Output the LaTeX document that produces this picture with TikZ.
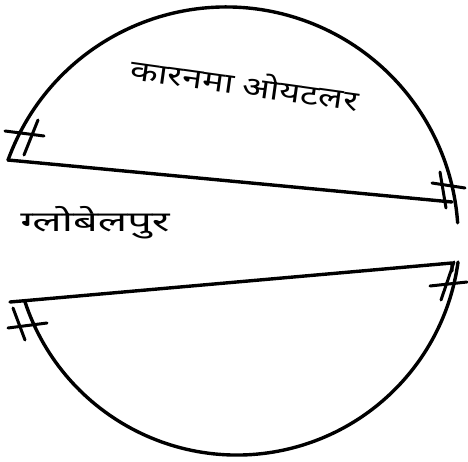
\documentclass[tikz,border=0pt]{standalone}
\usepackage{fontspec}
\newfontfamily\deva[Script=Devanagari]{Noto Sans}
\begin{document}
\begin{tikzpicture}[x=1pt,y=1pt,
  pen/.style={line width=3.4pt,line cap=round,line join=round,black},
  tick/.style={line width=3pt,line cap=round,black},
  label/.style={font=\deva\fontsize{28}{32}\selectfont,inner sep=0pt}]
\useasboundingbox (0,0) rectangle (468,461);
% upper half
\coordinate (ua) at (8,301);
\coordinate (ub) at (452,259);
\draw[pen] (ua) -- (ub);
\draw[pen] (226.2,222) ++(160.1:232) arc[start angle=160.1,end angle=4,radius=232];
% upper ticks
\draw[tick] (38,341) -- (24,306);
\draw[tick] (5,330) -- (44,325);
\draw[tick] (440,289) -- (446,253);
\draw[tick] (432,278) -- (465,273);
% lower half
\coordinate (la) at (10,159);
\coordinate (lb) at (452,198);
\draw[pen] (la) -- (lb) -- ++(0,-8);
\draw[pen] (236.9,229.2) ++(198.3:223.2) arc[start angle=198.3,end angle=352.2,radius=223.2];
% lower ticks
\draw[tick] (13,153) -- (25,121);
\draw[tick] (8,133) -- (47,138);
\draw[tick] (454,199) -- (441,161);
\draw[tick] (430,175) -- (467,179);
% texts
\node[label,rotate=-8,xscale=1.3] (t1) at (245,378) {कारनमा ओयटलर};
\node[label,xscale=1.55] (t2) at (95,238) {ग्लोबेलपुर};
\end{tikzpicture}
\end{document}
